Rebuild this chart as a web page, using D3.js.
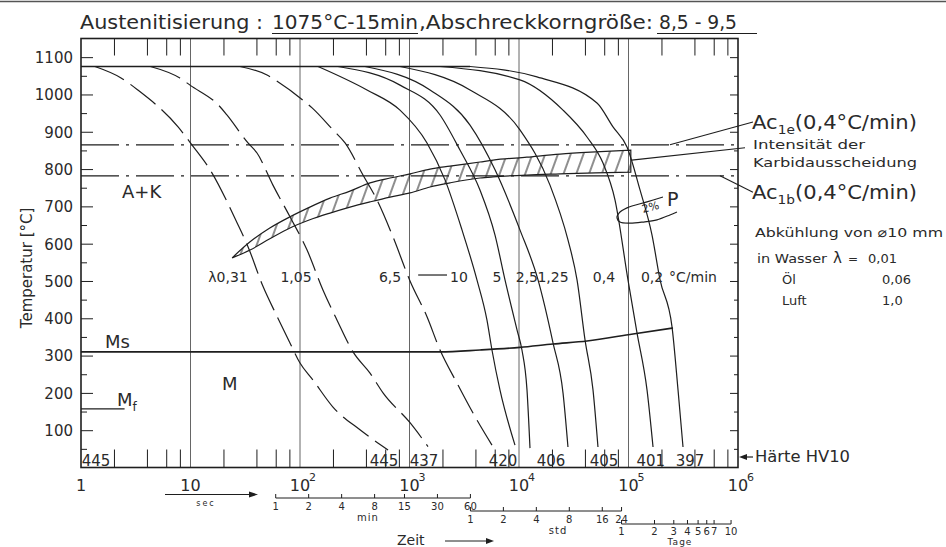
<!DOCTYPE html>
<html>
<head>
<meta charset="utf-8">
<title>ZTU-Schaubild</title>
<script src="https://cdn.jsdelivr.net/npm/d3@7/dist/d3.min.js"></script>
<style>
  body { margin: 0; background: #fff; }
  svg { display: block; }
  text { font-family: "DejaVu Sans", sans-serif; fill: #2a2a2a; }
</style>
</head>
<body>
<svg id="chart" width="946" height="547"></svg>
<script>
// Achsen
const decadeTicks = [1, 10, 100, 1e3, 1e4, 1e5, 1e6];
const decadeExponents = ["", "", "2", "3", "4", "5", "6"];
const minorMultipliers = [2, 4, 6, 8];
const tempTicks = [100, 200, 300, 400, 500, 600, 700, 800, 900, 1000, 1100];
const tempMinorTicks = [50, 150, 250, 350, 450, 550, 650, 750, 850, 950, 1050];
const minuteTicks = [1, 2, 4, 8, 15, 30, 60];
const hourTicks = [1, 2, 4, 8, 16, 24];
const dayTicks = [1, 2, 3, 4, 5, 6, 7, 10];

// Umwandlungslinien [Zeit s, Temperatur °C]
const austenitTemp = 1075;
const austenitEnd = 3570;
const ac1eTemp = 865;
const ac1bTemp = 782;
const msLine = [[1, 310], [1900, 310], [4400, 315], [10200, 322], [20400, 331], [41800, 339], [110000, 358], [255000, 374]];
const mfLine = [[1, 157], [2.5, 157]];

// Karbidausscheidung (schraffiertes Band)
const bandTimes = [24, 35, 53, 81, 123, 188, 286, 436, 664, 1011, 1540, 2344, 4400, 5800, 11800, 23700, 50000, 105000];
const bandUpper = [562, 605, 642, 672, 698, 722, 741, 763, 776, 787, 800, 808, 819, 824, 832, 840, 846, 851];
const bandLower = [562, 583, 613, 642, 664, 682, 698, 712, 725, 736, 752, 763, 776, 779, 784, 787, 790, 792];

// 2 % Perlit
const pearliteLoop = [[206500, 725], [147600, 712], [96900, 696], [81900, 682], [78500, 669], [83600, 658], [103000, 655], [135600, 658], [182000, 664], [239000, 677], [277000, 685]];

// Abkühlkurven
const curveL031 = [[1.34, 1075], [2.3, 1045], [3.3, 1012], [7.7, 913], [10.3, 865], [15.1, 798], [26.6, 656], [33.5, 592], [46, 485], [62, 404], [81, 334], [100, 280], [131, 235], [200, 162], [353, 101], [637, 47]];
const curveL105 = [[4.3, 1075], [8, 1044], [9.9, 1025], [18.6, 967], [21.5, 945], [33.5, 870], [40.5, 843], [56.6, 757], [81, 672], [116, 583], [162, 476], [218, 395], [305, 310], [436, 253], [573, 200], [1011, 120], [1475, 56]];
const curveL65 = [[28.3, 1075], [50, 1052], [59, 1039], [106, 985], [129, 964], [200, 905], [258, 870], [376, 784], [505, 717], [707, 618], [1011, 500], [1445, 404], [1900, 315], [2718, 226], [3802, 146], [5664, 60]];
const curveR10 = [[146, 1075], [409, 1012], [819, 958], [1445, 870], [2110, 771], [3015, 637], [4130, 503], [5100, 395], [5664, 315], [6700, 208], [9190, 60]];
const curveR5 = [[222, 1075], [819, 1025], [1900, 945], [2890, 851], [4400, 744], [6040, 623], [7450, 503], [9590, 369], [10640, 315], [11830, 208], [12600, 52]];
const curveR25 = [[392, 1075], [1540, 1012], [3570, 918], [6040, 798], [10200, 637], [14920, 503], [20450, 334], [25230, 200], [28000, 55]];
const curveR125 = [[819, 1075], [3570, 1012], [10200, 905], [19190, 757], [28000, 610], [33880, 503], [40080, 342], [47400, 208], [52620, 55]];
const curveR04 = [[1900, 1075], [10200, 1039], [25230, 958], [41780, 886], [58490, 816], [75340, 717], [98900, 503], [119600, 361], [147600, 208], [167500, 55]];
const curveR02 = [[3570, 1075], [14590, 1047], [51540, 977], [72180, 913], [96900, 859], [127400, 744], [164000, 623], [194200, 503], [249700, 377], [283300, 208], [314600, 55]];
const dashedCurves = [curveL031, curveL105, curveL65];
const solidCurves = [curveR10, curveR5, curveR25, curveR125, curveR04, curveR02];

// Beschriftungen
const rateLabels = ["λ0,31", "1,05", "6,5", "10", "5", "2,5", "1,25", "0,4", "0,2", "°C/min"];
const rateLabelTimes = [22, 92, 664, 2830, 6300, 11800, 20450, 59700, 164000, 388000];
const rateLeader = [[1200, 516], [2200, 516]];
const hardnessValues = ["445", "445", "437", "420", "406", "405", "401", "397"];
const hardnessTimes = [1.37, 585, 1357, 7145, 19600, 59700, 160000, 365000];
const ac1eLeader = [[239000, 865], [1.37e6, 926]];
const bandLeader = [[1.07e5, 824], [1.16e6, 857]];
const ac1bLeader = [[685000, 782], [1.37e6, 738]];

const svg = d3.select("#chart");
const ink = "#1e1e1e";
const x = d3.scaleLog().domain([1, 1e6]).range([81, 738]);
const y = d3.scaleLinear().domain([0, 1150]).range([467.5, 38.5]);
const smooth = d3.line().x(d => x(d[0])).y(d => y(d[1])).curve(d3.curveMonotoneX);
const straight = d3.line().x(d => x(d[0])).y(d => y(d[1]));

function label(px, py, str, size, anchor) {
  return svg.append("text").attr("x", px).attr("y", py).attr("font-size", size)
    .attr("text-anchor", anchor || "start").text(str);
}
function fit(sel, w) {
  return sel.attr("textLength", w).attr("lengthAdjust", "spacingAndGlyphs");
}

// Scan-Rand oben
svg.append("line").attr("x1", 0).attr("x2", 946).attr("y1", 1.5).attr("y2", 1.5)
  .attr("stroke", "#555").attr("stroke-width", 1.5);

// Titel
const titleParts = [
  { text: "Austenitisierung :", x0: 80, x1: 263 },
  { text: "1075°C-15min", x0: 272, x1: 418, u0: 272, u1: 418 },
  { text: ",Abschreckkorngröße:", x0: 419, x1: 653 },
  { text: "8,5 - 9,5", x0: 659, x1: 737, u0: 657, u1: 757 }
];
titleParts.forEach(p => {
  fit(label(p.x0, 29, p.text, 20), p.x1 - p.x0);
  if (p.u0) {
    svg.append("line").attr("x1", p.u0).attr("x2", p.u1).attr("y1", 33.5).attr("y2", 33.5)
      .attr("stroke", ink).attr("stroke-width", 1.2);
  }
});

// Dekadenlinien
svg.append("g").selectAll("line").data(decadeTicks.slice(1, -1)).join("line")
  .attr("x1", d => x(d)).attr("x2", d => x(d)).attr("y1", y(1150)).attr("y2", y(0))
  .attr("stroke", "#666").attr("stroke-width", 1);

// logarithmische Zwischenstriche oben und unten
const minorTimes = decadeTicks.slice(0, -1).flatMap(d => minorMultipliers.map(m => d * m));
function cleanAxis(g) {
  g.select(".domain").remove();
  g.selectAll("line").attr("stroke", ink).attr("stroke-width", 1);
  g.selectAll("text").remove();
}
svg.append("g").attr("transform", `translate(0,${y(0)})`)
  .call(d3.axisBottom(x).tickValues(minorTimes).tickSize(-18)).call(cleanAxis);
svg.append("g").attr("transform", `translate(0,${y(1150)})`)
  .call(d3.axisTop(x).tickValues(minorTimes).tickSize(-17)).call(cleanAxis);

// Temperaturachse links
const leftAxis = svg.append("g").attr("transform", `translate(${x(1)},0)`)
  .call(d3.axisLeft(y).tickValues(tempTicks).tickSize(-12).tickPadding(8).tickFormat(d3.format("d")));
leftAxis.select(".domain").remove();
leftAxis.attr("font-family", null).attr("font-size", null);
leftAxis.selectAll("line").attr("stroke", ink);
leftAxis.selectAll("text").attr("font-size", 15).attr("fill", "#2a2a2a").attr("dy", "0.36em");
svg.append("g").attr("transform", `translate(${x(1)},0)`)
  .call(d3.axisLeft(y).tickValues(tempMinorTicks).tickSize(-6)).call(cleanAxis);

// rechte Achse
svg.append("g").attr("transform", `translate(${x(1e6)},0)`)
  .call(d3.axisRight(y).tickValues(tempTicks).tickSize(-8)).call(cleanAxis);
svg.append("g").attr("transform", `translate(${x(1e6)},0)`)
  .call(d3.axisRight(y).tickValues(tempMinorTicks).tickSize(-4)).call(cleanAxis);

// Rahmen
svg.append("rect").attr("x", x(1)).attr("y", y(1150))
  .attr("width", x(1e6) - x(1)).attr("height", y(0) - y(1150))
  .attr("fill", "none").attr("stroke", ink).attr("stroke-width", 1.6);

// Dekadenbeschriftung
decadeTicks.forEach((d, i) => {
  label(x(d), 491, d === 1 ? "1" : "10", 16, "middle");
  if (decadeExponents[i]) label(x(d) + 9, 481, decadeExponents[i], 11);
});

// Achsentitel
label(0, 0, "Temperatur [°C]", 15, "middle")
  .attr("transform", `translate(32,${y(535)}) rotate(-90)`);

// Austenitisierungstemperatur
svg.append("path").attr("d", straight([[1, austenitTemp], [austenitEnd, austenitTemp]]))
  .attr("fill", "none").attr("stroke", ink).attr("stroke-width", 1.3);

// Ac1e / Ac1b
[ac1eTemp, ac1bTemp].forEach(t => {
  svg.append("path").attr("d", straight([[1, t], [1e6, t]]))
    .attr("fill", "none").attr("stroke", ink).attr("stroke-width", 1.3)
    .attr("stroke-dasharray", "38,7,3,7");
});

// Karbidband mit Schraffur
const defs = svg.append("defs");
const hatch = defs.append("pattern").attr("id", "hatch").attr("patternUnits", "userSpaceOnUse")
  .attr("width", 12).attr("height", 12).attr("patternTransform", "rotate(20)");
hatch.append("line").attr("x1", 1).attr("x2", 1).attr("y1", 0).attr("y2", 12)
  .attr("stroke", ink).attr("stroke-width", 1);
const band = d3.area()
  .x((d, i) => x(bandTimes[i]))
  .y0((d, i) => y(bandLower[i]))
  .y1((d, i) => y(bandUpper[i]))
  .curve(d3.curveMonotoneX);
svg.append("path").attr("d", band(bandTimes))
  .attr("fill", "url(#hatch)").attr("stroke", ink).attr("stroke-width", 1.2);

// 2 % Perlit
svg.append("path").attr("d", d3.line().x(d => x(d[0])).y(d => y(d[1])).curve(d3.curveCatmullRom)(pearliteLoop))
  .attr("fill", "none").attr("stroke", ink).attr("stroke-width", 1.2);
label(x(135600), y(682), "2%", 11).attr("transform", `rotate(-15,${x(135600)},${y(682)})`);
label(x(224900), y(701), "P", 19);

// Ms / Mf
svg.append("path").attr("d", smooth(msLine)).attr("fill", "none").attr("stroke", ink).attr("stroke-width", 1.6);
svg.append("path").attr("d", straight(mfLine)).attr("fill", "none").attr("stroke", ink).attr("stroke-width", 1.2);

// Abkühlkurven
svg.append("g").selectAll("path").data(dashedCurves).join("path")
  .attr("d", smooth).attr("fill", "none").attr("stroke", ink).attr("stroke-width", 1.2)
  .attr("stroke-dasharray", "32,8");
svg.append("g").selectAll("path").data(solidCurves).join("path")
  .attr("d", smooth).attr("fill", "none").attr("stroke", ink).attr("stroke-width", 1.2);

// Kurvenbeschriftung
rateLabels.forEach((s, i) => label(x(rateLabelTimes[i]), 282, s, 14, "middle"));
svg.append("path").attr("d", straight(rateLeader)).attr("stroke", ink).attr("stroke-width", 1.2);

// Gefügebereiche
label(x(2.37), 198, "A+K", 18);
label(x(1.66), 348, "Ms", 18);
label(x(19.4), 390, "M", 18);
const mf = label(x(2.13), 406, "M", 18);
mf.append("tspan").attr("font-size", 12).attr("dy", 5).text("f");

// Härte
hardnessValues.forEach((s, i) => label(x(hardnessTimes[i]), 466, s, 15, "middle"));
fit(label(755, 462, "Härte HV10", 15), 95);
svg.append("line").attr("x1", 753).attr("x2", 744).attr("y1", 457).attr("y2", 457).attr("stroke", ink).attr("stroke-width", 1.2);
svg.append("path").attr("d", "M739,457 L747,454 L747,460 Z").attr("fill", ink);

// Hinweislinien rechts
[ac1eLeader, bandLeader, ac1bLeader].forEach(l => {
  svg.append("path").attr("d", straight(l)).attr("stroke", ink).attr("stroke-width", 1.1);
});
function acLabel(py, sub) {
  const t = svg.append("text").attr("x", 752).attr("y", py).attr("font-size", 20);
  t.append("tspan").text("Ac");
  t.append("tspan").attr("font-size", 13).attr("dy", 5).text(sub);
  t.append("tspan").attr("dy", -5).text("(0,4°C/min)");
  fit(t, 165);
}
acLabel(129, "1e");
acLabel(199, "1b");
fit(label(753, 149, "Intensität der", 13), 112);
fit(label(753, 167, "Karbidausscheidung", 13), 164);

// Abkühlung von Ø 10 mm
fit(label(755, 237, "Abkühlung  von ⌀10 mm", 13), 188);
fit(label(757, 263, "in Wasser", 13), 70);
label(833, 263, "λ", 15);
label(848, 263, "=", 12);
label(868, 263, "0,01", 13);
label(782, 284, "Öl", 13);
label(882, 284, "0,06", 13);
label(782, 305, "Luft", 13);
label(882, 305, "1,0", 13);

// Zeitskalen unter der Achse
svg.append("line").attr("x1", 165).attr("x2", 252).attr("y1", 494.5).attr("y2", 494.5).attr("stroke", ink);
svg.append("path").attr("d", "M258,494.5 L249,491.5 L249,497.5 Z").attr("fill", ink);
label(206, 506, "sec", 8, "middle").attr("letter-spacing", 2);

function subScale(ticks, factor, lineY, labelY, name, nameY, nameX, nameSize) {
  const g = svg.append("g");
  g.append("line").attr("x1", x(ticks[0] * factor)).attr("x2", x(ticks[ticks.length - 1] * factor))
    .attr("y1", lineY).attr("y2", lineY).attr("stroke", ink).attr("stroke-width", 1);
  g.selectAll("line.t").data(ticks).join("line").attr("class", "t")
    .attr("x1", d => x(d * factor)).attr("x2", d => x(d * factor))
    .attr("y1", lineY - 4).attr("y2", lineY).attr("stroke", ink);
  g.selectAll("text").data(ticks).join("text")
    .attr("x", d => x(d * factor)).attr("y", labelY).attr("font-size", 10)
    .attr("text-anchor", "middle").text(d => d);
  label(nameX, nameY, name, nameSize, "middle").attr("letter-spacing", 1);
}
subScale(minuteTicks, 60, 498, 510, "min", 521, 368, 10);
subScale(hourTicks, 3600, 511, 523, "std", 534, 558, 10);
subScale(dayTicks, 86400, 524, 535, "Tage", 544.5, 680, 9);

label(397, 545, "Zeit", 14);
svg.append("line").attr("x1", 445).attr("x2", 488).attr("y1", 541).attr("y2", 541).attr("stroke", ink);
svg.append("path").attr("d", "M494,541 L486,538 L486,544 Z").attr("fill", ink);
</script>
</body>
</html>
